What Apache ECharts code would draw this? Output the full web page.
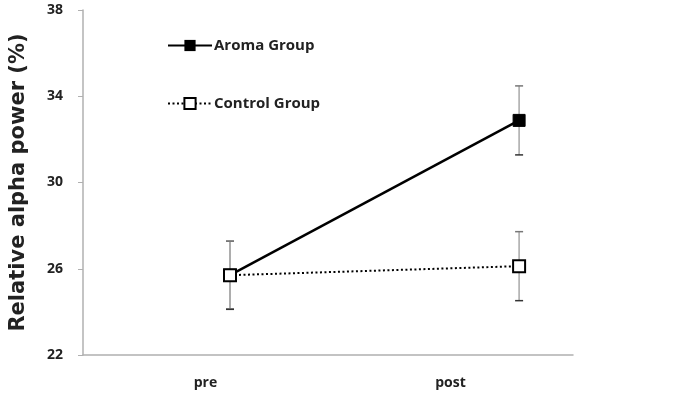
<!DOCTYPE html>
<html>
<head>
<meta charset="utf-8">
<script src="https://cdn.jsdelivr.net/npm/echarts@6/dist/echarts.min.js"></script>
<style>
  html, body {margin: 0; padding: 0; background: #fff;}
  #chart {width: 675px; height: 399px;}
</style>
</head>
<body>
<div id="chart"></div>
<script>
// categories on the visible axis
const categories = ['pre', 'post'];
// where the points sit on the hidden 0..2 axis (the reference draws them right of the label centres)
const xPositions = [0.6, 1.78];
const aromaMean = [25.7, 32.88];
const aromaErr = [1.58, 1.6];
const controlMean = [25.7, 26.12];
const controlErr = [1.58, 1.6];
const yMin = 22, yMax = 38, yStep = 4;

const labelFont = '"Open Sans", "Noto Sans", sans-serif';

const pts = (mean) => mean.map((v, i) => [xPositions[i], v]);
const errs = (mean, err) => mean.map((v, i) => [xPositions[i], v - err[i], v + err[i]]);

const errorBars = (name, data) => ({
    name: name + ' err',
    type: 'custom',
    xAxisIndex: 1,
    z: 1,
    silent: true,
    renderItem(params, api) {
        const top = api.coord([api.value(0), api.value(2)]);
        const bot = api.coord([api.value(0), api.value(1)]);
        const half = 4;
        return {
            type: 'group',
            children: [
                {type: 'line', shape: {x1: top[0], y1: top[1], x2: bot[0], y2: bot[1]},
                    style: {stroke: '#a8a8a8', lineWidth: 1.5}},
                {type: 'line', shape: {x1: top[0] - half, y1: top[1], x2: top[0] + half, y2: top[1]},
                    style: {stroke: '#777', lineWidth: 1.5}},
                {type: 'line', shape: {x1: bot[0] - half, y1: bot[1], x2: bot[0] + half, y2: bot[1]},
                    style: {stroke: '#333', lineWidth: 1.5}}
            ]
        };
    },
    data: data
});

const chart = echarts.init(document.getElementById('chart'));
chart.setOption({
    animation: false,
    grid: {left: 82, right: 102, top: 10, bottom: 44},
    legend: {
        orient: 'vertical',
        left: 162,
        top: 33,
        itemWidth: 44,
        itemHeight: 14,
        itemGap: 43,
        textStyle: {fontFamily: labelFont, fontWeight: 'bold', fontSize: 15, color: '#222', padding: [0, 0, 0, -3]},
        data: ['Aroma Group', 'Control Group']
    },
    xAxis: [{
        type: 'category',
        data: categories,
        axisLine: {lineStyle: {color: '#b0b0b0', width: 1.5}},
        axisTick: {length: 5, lineStyle: {color: '#b0b0b0'}},
        axisLabel: {margin: 21, fontFamily: labelFont, fontWeight: 'bold', fontSize: 14, color: '#222'}
    }, {
        type: 'value',
        min: 0,
        max: 2,
        show: false
    }],
    yAxis: {
        type: 'value',
        min: yMin,
        max: yMax,
        interval: yStep,
        name: 'Relative alpha power (%)',
        nameLocation: 'middle',
        nameGap: 54,
        nameTextStyle: {fontFamily: '"DejaVu Sans", sans-serif', fontWeight: 'bold', fontSize: 21, color: '#222'},
        splitLine: {show: false},
        axisLine: {show: true, lineStyle: {color: '#b0b0b0', width: 1.5}},
        axisTick: {show: true, length: 5, lineStyle: {color: '#b0b0b0'}},
        axisLabel: {margin: 20, fontFamily: labelFont, fontWeight: 'bold', fontSize: 14, color: '#222'}
    },
    series: [
        errorBars('Aroma Group', errs(aromaMean, aromaErr)),
        errorBars('Control Group', errs(controlMean, controlErr)),
        {
            name: 'Aroma Group',
            type: 'line',
            xAxisIndex: 1,
            z: 3,
            symbol: 'rect',
            symbolSize: 12,
            itemStyle: {color: '#000', borderColor: '#000'},
            lineStyle: {color: '#000', width: 2.5},
            data: pts(aromaMean)
        },
        {
            name: 'Control Group',
            type: 'line',
            xAxisIndex: 1,
            z: 4,
            symbol: 'rect',
            symbolSize: 12,
            itemStyle: {color: '#fff', borderColor: '#000', borderWidth: 2},
            lineStyle: {color: '#000', width: 2, type: [2, 2.5]},
            data: pts(controlMean)
        }
    ]
});
</script>
</body>
</html>
